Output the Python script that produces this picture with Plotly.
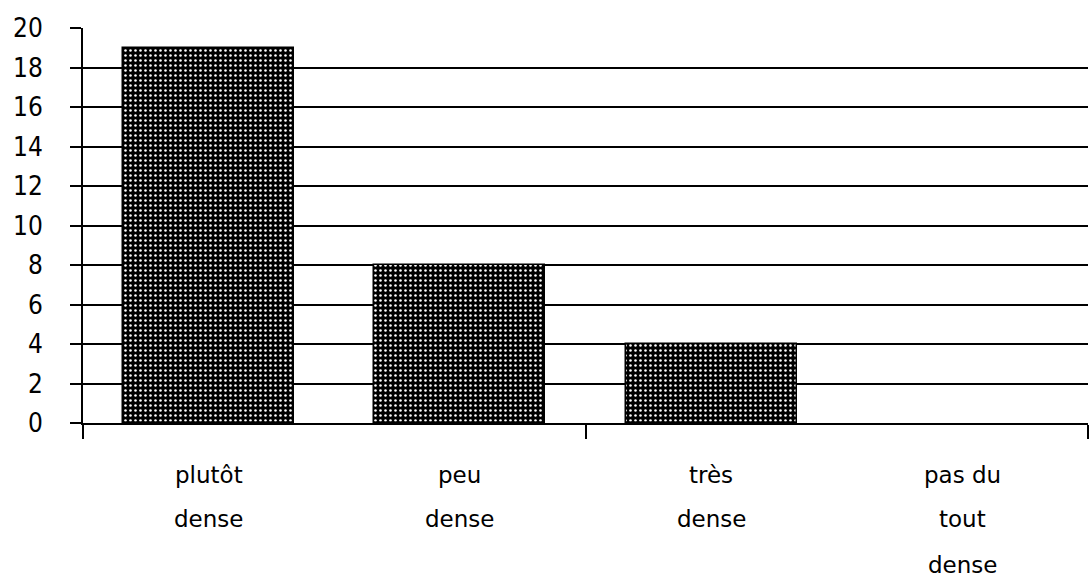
import plotly.graph_objects as go

# Category labels (one list of lines per bar) and counts
categories = [
    ["plutôt", "dense"],
    ["peu", "dense"],
    ["très", "dense"],
    ["pas du", "tout", "dense"],
]
counts = [19, 8, 4, 0]
y_ticks = list(range(0, 21, 2))

x_pos = [i + 0.5 for i in range(len(categories))]
# no outline for empty bars, so nothing is drawn on the baseline
outline_widths = [1.5 if v > 0 else 0 for v in counts]

fig = go.Figure()
fig.add_trace(go.Bar(
    x=x_pos,
    y=counts,
    width=0.68,
    marker=dict(
        color="black",
        line=dict(color="black", width=outline_widths),
        pattern=dict(shape=".", fgcolor="white", bgcolor="black",
                     size=5, solidity=0.2, fillmode="replace"),
    ),
    showlegend=False,
    hoverinfo="skip",
))

label_font = dict(family="DejaVu Sans, Liberation Sans, sans-serif", size=23, color="black")
line_shifts = [-52, -96, -142]
for xp, lines in zip(x_pos, categories):
    for k, line in enumerate(lines):
        fig.add_annotation(
            x=xp, xref="x", y=0, yref="paper",
            text=line, showarrow=False,
            xanchor="center", yanchor="middle",
            yshift=line_shifts[k],
            font=label_font,
        )

fig.update_layout(
    width=1092, height=580,
    margin=dict(l=83, r=4, t=28, b=157),
    paper_bgcolor="white", plot_bgcolor="white",
    bargap=0,
)
fig.update_xaxes(
    range=[0, 4],
    tickvals=[0, 2, 4], ticktext=["", "", ""],
    ticks="outside", ticklen=14, tickwidth=2, tickcolor="black",
    showline=True, linecolor="black", linewidth=2,
    showgrid=False, zeroline=False,
)
fig.update_yaxes(
    range=[0, 20],
    tickvals=y_ticks,
    ticks="outside", ticklen=11, tickwidth=2, tickcolor="black",
    showline=True, linecolor="black", linewidth=2,
    showgrid=True, gridcolor="black", gridwidth=2,
    zeroline=False,
    ticklabelstandoff=22,
    tickfont=dict(family="Liberation Sans Narrow, DejaVu Sans Condensed, Liberation Sans, sans-serif",
                  size=26, color="black"),
)

fig.write_html("out.html")
